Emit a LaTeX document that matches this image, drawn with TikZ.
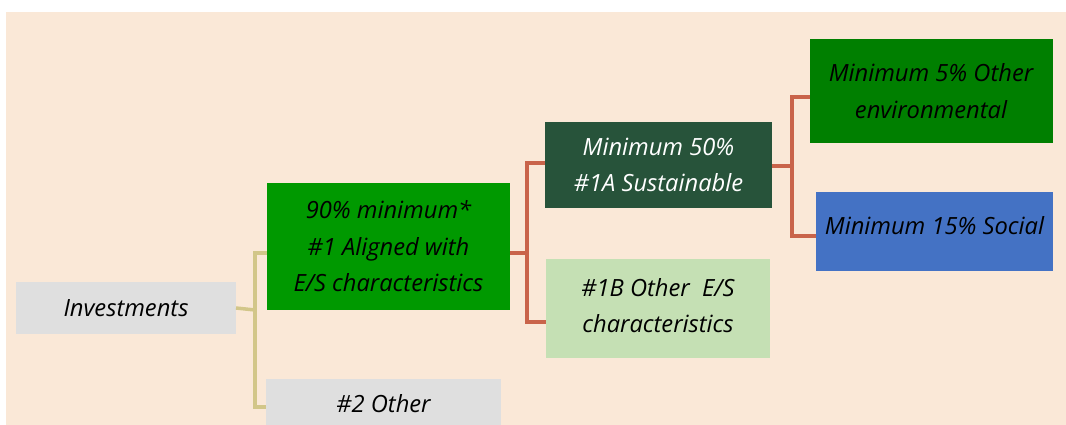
\documentclass[tikz,border=0pt]{standalone}
\usepackage{fontspec}
\setmainfont{Open Sans}
\definecolor{bgpeach}{RGB}{250,232,215}
\definecolor{boxgrey}{RGB}{223,223,223}
\definecolor{midgreen}{RGB}{0,153,0}
\definecolor{darkgreen}{RGB}{39,83,58}
\definecolor{lightgreen}{RGB}{197,224,180}
\definecolor{envgreen}{RGB}{0,127,0}
\definecolor{socblue}{RGB}{68,114,196}
\definecolor{tanline}{RGB}{210,198,137}
\definecolor{redline}{RGB}{201,100,74}
\begin{document}
\begin{tikzpicture}[x=1pt,y=-1pt,
  box/.style={inner sep=0pt, outer sep=0pt, align=center, text=black,
    font=\fontsize{23.7}{36.5}\selectfont\itshape},
  tanconn/.style={draw=tanline, line width=3.5pt},
  redconn/.style={draw=redline, line width=3.5pt},
]
\useasboundingbox (0,0) rectangle (1066,425);
\fill[bgpeach] (6,12) rectangle (1066,425);

\node[box, fill=boxgrey, minimum width=220pt, minimum height=52pt] (inv) at (126,308) {Investments};
\node[box, fill=midgreen, minimum width=243pt, minimum height=127pt] (a1) at (388.5,246.5) {90\% minimum*\\\#1 Aligned with\\E/S characteristics};
\node[box, fill=boxgrey, minimum width=235pt, minimum height=46pt, text height=21pt] (oth) at (383.5,402) {\#2 Other};
\node[box, fill=darkgreen, text=white, minimum width=227pt, minimum height=85pt] (sus) at (658.5,165) {Minimum 50\%\\\#1A Sustainable};
\node[box, fill=lightgreen, minimum width=224pt, minimum height=99pt, text depth=6pt] (oes) at (658,308.5) {\#1B Other\ \ E/S\\characteristics};
\node[box, fill=envgreen, minimum width=243pt, minimum height=104pt] (env) at (931,91) {Minimum 5\% Other\\environmental};
\node[box, fill=socblue, minimum width=237pt, minimum height=79pt, text depth=12pt] (soc) at (934.5,231) {Minimum 15\% Social};

\coordinate (j1) at (255,310);
\coordinate (j2) at (527,253);
\coordinate (j3) at (792,166);

\draw[tanconn] (inv.east) -- (j1);
\draw[tanconn] ([yshift=-6.5pt]a1.west) -| (j1) |- ([yshift=-5pt]oth.west);
\draw[redconn] ([yshift=-6.5pt]a1.east) -- (j2);
\draw[redconn] ([yshift=2pt]sus.west) -| (j2) |- ([yshift=-13.5pt]oes.west);
\draw[redconn] ([yshift=-1pt]sus.east) -- (j3);
\draw[redconn] ([yshift=-6pt]env.west) -| (j3) |- ([yshift=-5pt]soc.west);
\end{tikzpicture}
\end{document}
